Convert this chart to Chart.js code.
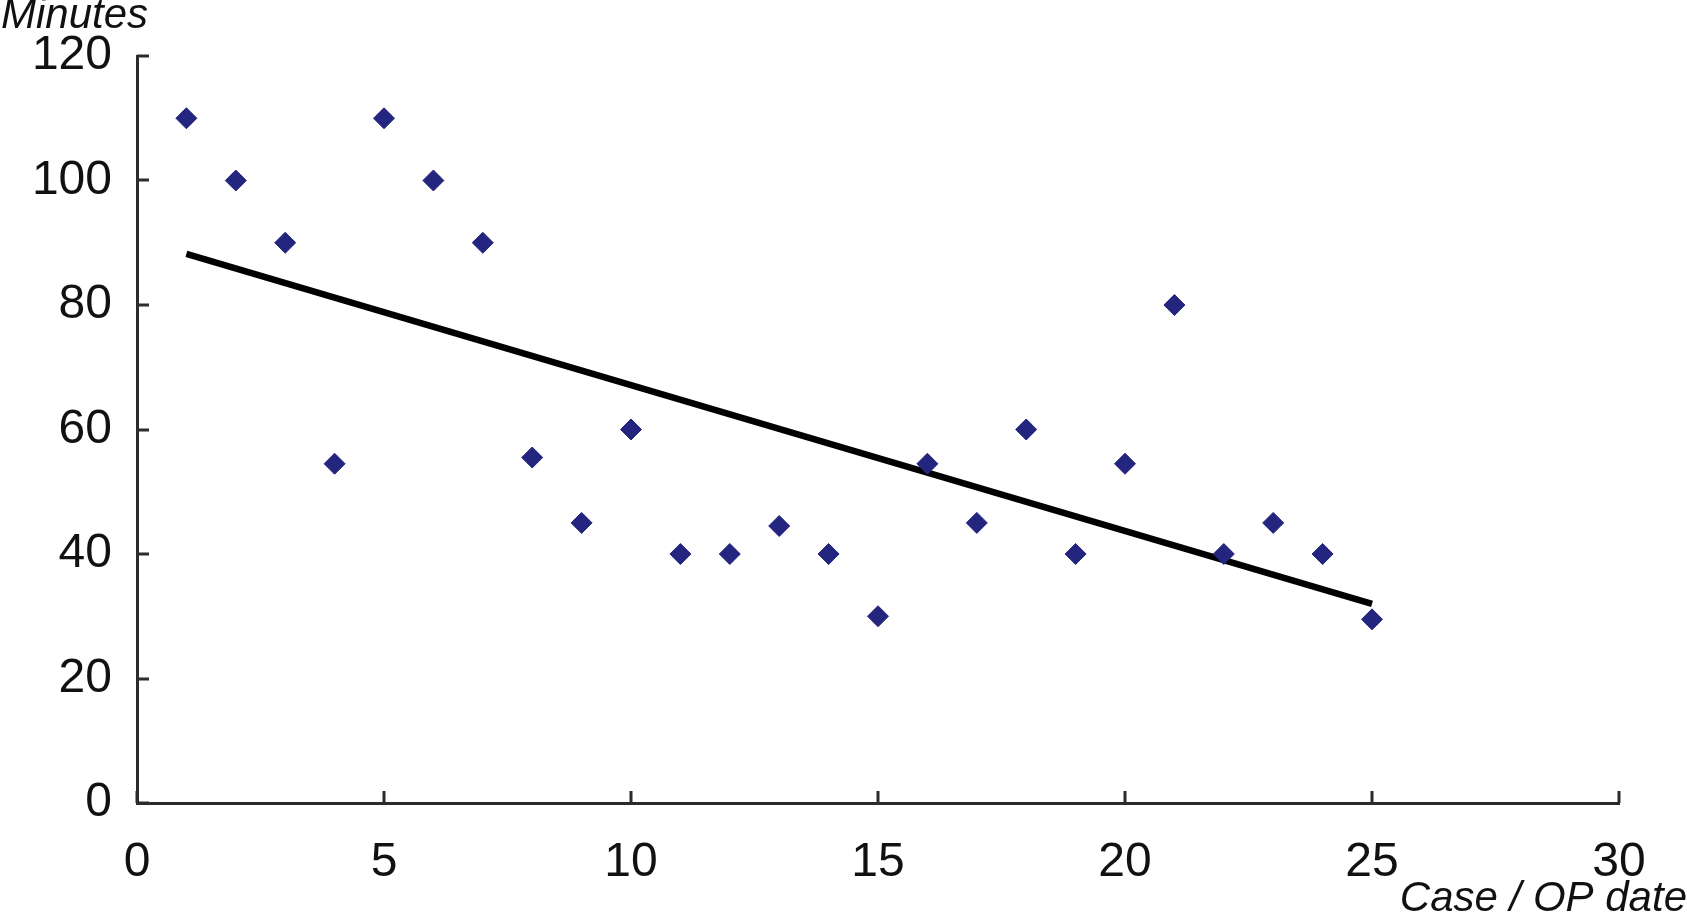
<!DOCTYPE html>
<html>
<head>
<meta charset="utf-8">
<script src="https://cdn.jsdelivr.net/npm/chart.js@4/dist/chart.umd.min.js"></script>
<style>
  html, body { margin: 0; padding: 0; background: #fff; }
  #wrap { width: 1687px; height: 918px; }
</style>
</head>
<body>
<div id="wrap"><canvas id="chart" width="1687" height="918"></canvas></div>
<script>
// data
const caseNumbers = [1, 2, 3, 4, 5, 6, 7, 8, 9, 10, 11, 12, 13, 14, 15, 16, 17, 18, 19, 20, 21, 22, 23, 24, 25];
const minutes = [110, 100, 90, 54.5, 110, 100, 90, 55.5, 45, 60, 40, 40, 44.5, 40, 30, 54.5, 45, 60, 40, 54.5, 80, 40, 45, 40, 29.5];
const trendCases = [1, 25];
const trendMinutes = [88.2, 32.0];
const xTicks = [0, 5, 10, 15, 20, 25, 30];
const yTicks = [0, 20, 40, 60, 80, 100, 120];

const FONT = "'Liberation Sans', Arial, Helvetica, sans-serif";

// ticks in the original point into the plot, so draw them by hand
const innerTicks = {
    id: 'innerTicks',
    afterDraw(chart) {
        const ctx = chart.ctx;
        const area = chart.chartArea;
        const xs = chart.scales.x;
        const ys = chart.scales.y;
        ctx.save();
        ctx.strokeStyle = '#2b2b2b';
        ctx.lineWidth = 3;
        xTicks.forEach(v => {
            const px = Math.round(xs.getPixelForValue(v));
            ctx.beginPath();
            ctx.moveTo(px, area.bottom);
            ctx.lineTo(px, area.bottom - 12);
            ctx.stroke();
        });
        yTicks.forEach(v => {
            const py = Math.round(ys.getPixelForValue(v));
            ctx.beginPath();
            ctx.moveTo(area.left, py);
            ctx.lineTo(area.left + 12, py);
            ctx.stroke();
        });

        // axis titles
        ctx.fillStyle = '#111';
        ctx.font = 'italic 42px ' + FONT;
        ctx.textBaseline = 'alphabetic';
        ctx.textAlign = 'left';
        ctx.fillText('Minutes', 1, 28);
        ctx.textAlign = 'right';
        ctx.fillText('Case / OP date', 1687, 911);
        ctx.restore();
    }
};

new Chart(document.getElementById('chart'), {
    type: 'scatter',
    data: {
        datasets: [
            {
                data: caseNumbers.map((c, i) => ({ x: c, y: minutes[i] })),
                pointStyle: 'rectRot',
                pointRadius: 10.5,
                backgroundColor: '#24257e',
                borderColor: '#24257e',
                borderWidth: 1
            },
            {
                data: trendCases.map((c, i) => ({ x: c, y: trendMinutes[i] })),
                showLine: true,
                pointRadius: 0,
                borderColor: '#000',
                borderWidth: 6.5,
                fill: false
            }
        ]
    },
    options: {
        responsive: false,
        animation: false,
        devicePixelRatio: 1,
        layout: { padding: { top: 56, right: 68, left: 0, bottom: 0 } },
        plugins: {
            legend: { display: false },
            tooltip: { enabled: false }
        },
        scales: {
            x: {
                type: 'linear',
                min: 0,
                max: 30,
                afterFit: s => { s.height = 115; },
                afterBuildTicks: s => { s.ticks = xTicks.map(v => ({ value: v })); },
                ticks: { color: '#111', padding: 23, font: { family: FONT, size: 48 } },
                grid: { display: false },
                border: { display: true, color: '#2b2b2b', width: 3 }
            },
            y: {
                type: 'linear',
                min: 0,
                max: 120,
                afterFit: s => { s.width = 137; },
                afterBuildTicks: s => { s.ticks = yTicks.map(v => ({ value: v })); },
                ticks: { color: '#111', padding: 17, font: { family: FONT, size: 48 } },
                grid: { display: false },
                border: { display: true, color: '#2b2b2b', width: 3 }
            }
        }
    },
    plugins: [innerTicks]
});
</script>
</body>
</html>
